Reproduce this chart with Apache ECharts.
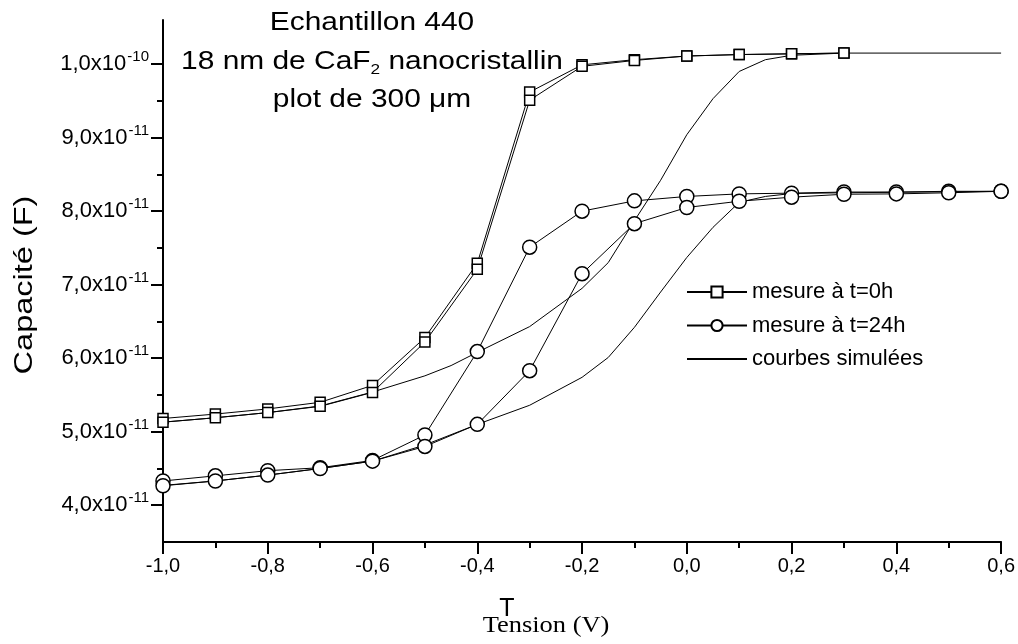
<!DOCTYPE html>
<html>
<head>
<meta charset="utf-8">
<script src="https://cdn.jsdelivr.net/npm/echarts@6/dist/echarts.min.js"></script>
<style>
  html, body { margin: 0; padding: 0; background: #fff; }
  #main { width: 1018px; height: 644px; }
</style>
</head>
<body>
<div id="main"></div>
<script>
// valeurs en unités de 1e-11 F
var xSquares = [-1.0, -0.9, -0.8, -0.7, -0.6, -0.5, -0.4, -0.3, -0.2, -0.1, 0.0, 0.1, 0.2, 0.3];
var squaresA = [5.18, 5.24, 5.31, 5.40, 5.63, 6.28, 7.29, 9.62, 9.99, 10.06, 10.11, 10.13, 10.14, 10.15];
var squaresB = [5.13, 5.19, 5.26, 5.345, 5.535, 6.22, 7.21, 9.51, 9.97, 10.05, 10.11, 10.13, 10.14, 10.15];

var xCircles = [-1.0, -0.9, -0.8, -0.7, -0.6, -0.5, -0.4, -0.3, -0.2, -0.1, 0.0, 0.1, 0.2, 0.3, 0.4, 0.5, 0.6];
var circlesA = [4.33, 4.40, 4.47, 4.51, 4.61, 4.955, 6.09, 7.51, 8.00, 8.14, 8.20, 8.235, 8.245, 8.26, 8.26, 8.27, 8.27];
var circlesB = [4.265, 4.33, 4.41, 4.50, 4.60, 4.80, 5.10, 5.83, 7.15, 7.83, 8.05, 8.135, 8.19, 8.23, 8.235, 8.25, 8.27];

var xSim1 = [-1.0, -0.9, -0.8, -0.7, -0.6, -0.5, -0.45, -0.4, -0.3, -0.2, -0.15, -0.1, -0.05, 0.0, 0.05, 0.1, 0.15, 0.2, 0.3, 0.6];
var ySim1 = [5.13, 5.19, 5.26, 5.35, 5.54, 5.76, 5.90, 6.08, 6.43, 6.95, 7.30, 7.87, 8.42, 9.04, 9.53, 9.90, 10.06, 10.12, 10.15, 10.15];
var xSim2 = [-1.0, -0.9, -0.8, -0.7, -0.6, -0.5, -0.4, -0.3, -0.2, -0.15, -0.1, -0.05, 0.0, 0.05, 0.1, 0.15, 0.2, 0.3, 0.6];
var ySim2 = [4.27, 4.33, 4.41, 4.50, 4.60, 4.82, 5.10, 5.36, 5.74, 6.01, 6.42, 6.90, 7.37, 7.78, 8.12, 8.20, 8.24, 8.25, 8.27];

var yMajor = [4, 5, 6, 7, 8, 9, 10];
var yMinor = [4.5, 5.5, 6.5, 7.5, 8.5, 9.5];

function pairs(xs, ys) {
    return xs.map(function (x, i) { return [x, ys[i]]; });
}

var sans = 'Liberation Sans';
var chart = echarts.init(document.getElementById('main'));

var measureStyle = function (name, symbol, size, data) {
    return {
        name: name,
        type: 'line',
        data: data,
        symbol: symbol,
        symbolSize: size,
        showAllSymbol: true,
        animation: false,
        lineStyle: { color: '#000', width: 1 },
        itemStyle: { color: '#fff', borderColor: '#000', borderWidth: 1.5 },
        emphasis: { disabled: true }
    };
};
var simStyle = function (data) {
    return {
        name: 'courbes simulées',
        type: 'line',
        data: data,
        showSymbol: false,
        symbol: 'none',
        animation: false,
        lineStyle: { color: '#000', width: 1 },
        itemStyle: { color: '#000' },
        emphasis: { disabled: true }
    };
};

chart.setOption({
    backgroundColor: '#fff',
    animation: false,
    grid: { left: 163, right: 15, top: 20, bottom: 102 },
    legend: {
        orient: 'vertical',
        left: 681,
        top: 276,
        itemWidth: 60,
        itemHeight: 14,
        itemGap: 11.5,
        textStyle: { fontFamily: sans, fontSize: 22, color: '#000', padding: [0, 0, 0, 0] },
        data: [
            { name: 'mesure à t=0h' },
            { name: 'mesure à t=24h' },
            { name: 'courbes simulées', itemStyle: { opacity: 0 } }
        ]
    },
    xAxis: {
        type: 'value',
        min: -1,
        max: 0.6,
        interval: 0.2,
        axisLine: { onZero: false, lineStyle: { color: '#000', width: 2 } },
        axisTick: { length: 12, lineStyle: { color: '#000', width: 2 } },
        minorTick: { show: true, splitNumber: 2, length: 6, lineStyle: { color: '#000', width: 2 } },
        splitLine: { show: false },
        axisLabel: {
            color: '#000', fontFamily: sans, fontSize: 20, margin: 14,
            formatter: function (v) { return (Math.abs(v) < 1e-9 ? 0 : v).toFixed(1).replace('.', ','); }
        }
    },
    yAxis: [{
        type: 'value',
        min: 3.5,
        max: 10.6,
        axisLine: { onZero: false, lineStyle: { color: '#000', width: 2 } },
        axisTick: { length: 12, customValues: yMajor, lineStyle: { color: '#000', width: 2 } },
        splitLine: { show: false },
        axisLabel: {
            customValues: yMajor,
            margin: 14,
            formatter: function (v) {
                if (v >= 10) return '{b|' + (v / 10).toFixed(1).replace('.', ',') + 'x10}{s|-10}';
                return '{b|' + v.toFixed(1).replace('.', ',') + 'x10}{s|-11}';
            },
            rich: {
                b: { fontFamily: sans, fontSize: 22, color: '#000' },
                s: { fontFamily: sans, fontSize: 15, color: '#000', padding: [0, 0, 14, 1] }
            }
        }
    }, {
        type: 'value',
        min: 3.5,
        max: 10.6,
        position: 'left',
        axisLine: { show: false, onZero: false },
        axisTick: { show: true, length: 6, customValues: yMinor, lineStyle: { color: '#000', width: 2 } },
        axisLabel: { show: false },
        splitLine: { show: false }
    }],
    series: [
        simStyle(pairs(xSim1, ySim1)),
        simStyle(pairs(xSim2, ySim2)),
        measureStyle('mesure à t=0h', 'rect', 10, pairs(xSquares, squaresA)),
        measureStyle('mesure à t=0h', 'rect', 10, pairs(xSquares, squaresB)),
        measureStyle('mesure à t=24h', 'circle', 14, pairs(xCircles, circlesA)),
        measureStyle('mesure à t=24h', 'circle', 14, pairs(xCircles, circlesB))
    ],
    graphic: [
        {
            type: 'text', x: 372, y: 23, scaleX: 1.15,
            style: { text: 'Echantillon 440', fontFamily: sans, fontSize: 26, fill: '#000', align: 'center', verticalAlign: 'middle' }
        },
        {
            type: 'text', x: 372, y: 62, scaleX: 1.15,
            style: {
                text: '18 nm de CaF{sub|2} nanocristallin', fontFamily: sans, fontSize: 26, fill: '#000', align: 'center', verticalAlign: 'middle',
                rich: { sub: { fontFamily: sans, fontSize: 15, fill: '#000', padding: [15, 0, 0, 0] } }
            }
        },
        {
            type: 'text', x: 372, y: 100, scaleX: 1.15,
            style: { text: 'plot de 300 μm', fontFamily: sans, fontSize: 26, fill: '#000', align: 'center', verticalAlign: 'middle' }
        },
        {
            type: 'text', x: 25, y: 285, rotation: Math.PI / 2, scaleX: 1.3,
            style: { text: 'Capacité (F)', fontFamily: sans, fontSize: 25, fill: '#000', align: 'center', verticalAlign: 'middle' }
        },
        {
            type: 'text', x: 546, y: 626, scaleX: 1.15,
            style: { text: 'Tension (V)', fontFamily: 'Liberation Serif', fontSize: 23, fill: '#000', align: 'center', verticalAlign: 'middle' }
        },
        {
            type: 'text', x: 507, y: 609,
            style: { text: 'T', fontFamily: sans, fontSize: 25, fill: '#000', align: 'center', verticalAlign: 'middle' }
        }
    ]
});
</script>
</body>
</html>
